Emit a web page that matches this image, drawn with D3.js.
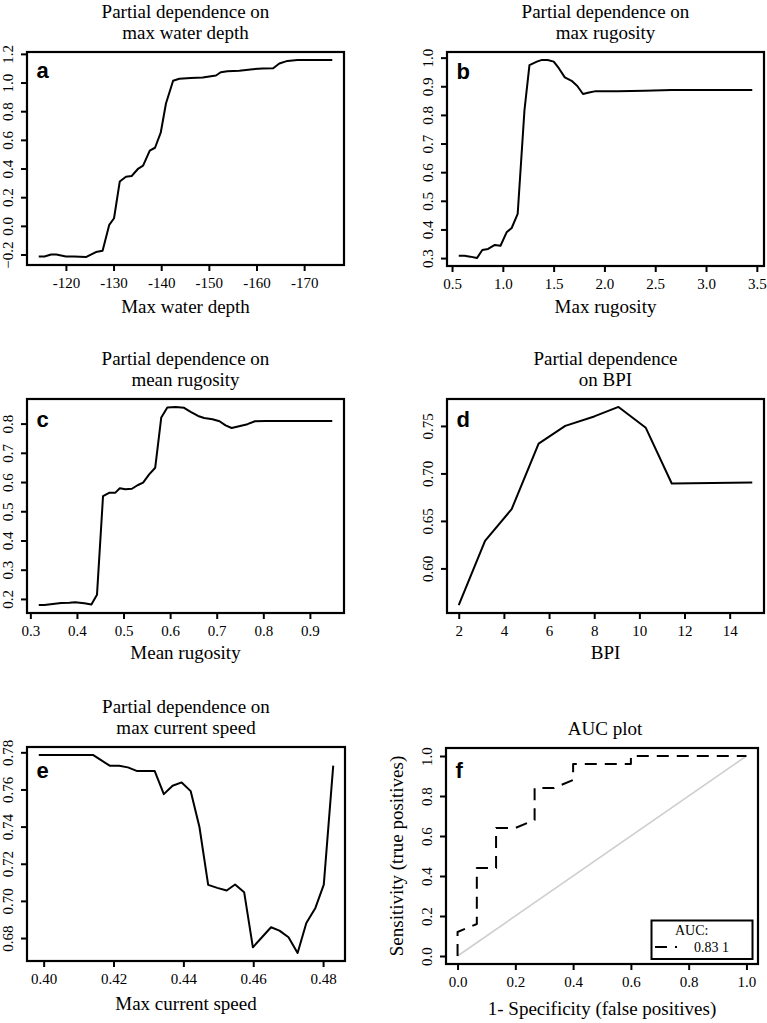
<!DOCTYPE html>
<html>
<head>
<meta charset="utf-8">
<script src="https://cdn.jsdelivr.net/npm/d3@7"></script>
<style>
  body { margin: 0; background: #fff; }
  svg { display: block; }
  svg text { font-family: "Liberation Serif", "Times New Roman", Times, serif; }
</style>
</head>
<body>
<script>
'use strict';

// panel a: max water depth
var depthX = [-114.3, -115.5, -116.9, -118.0, -120.0, -121.7, -124.2, -126.3, -127.7, -129.1, -130.1,
  -131.3, -132.6, -133.8, -135.2, -136.2, -137.6, -138.7, -139.9, -141.0, -142.5, -143.8, -146.2,
  -148.7, -150.1, -151.5, -152.5, -153.9, -156.4, -159.2, -161.3, -163.5, -164.8, -166.5, -168.6, -175.9];
var depthY = [-0.214, -0.214, -0.200, -0.200, -0.214, -0.214, -0.218, -0.183, -0.174, 0.007, 0.053,
  0.309, 0.343, 0.348, 0.400, 0.420, 0.525, 0.545, 0.650, 0.854, 1.012, 1.026, 1.031,
  1.035, 1.042, 1.049, 1.072, 1.079, 1.082, 1.093, 1.098, 1.100, 1.133, 1.151, 1.158, 1.158];
var depthXTicks = [-120, -130, -140, -150, -160, -170];
var depthYTicks = [-0.2, 0, 0.2, 0.4, 0.6, 0.8, 1.0, 1.2];

// panel b: max rugosity
var maxRugX = [0.566, 0.623, 0.679, 0.745, 0.798, 0.855, 0.921, 0.977, 1.037, 1.087, 1.146, 1.213,
  1.262, 1.335, 1.385, 1.441, 1.501, 1.551, 1.610, 1.677, 1.733, 1.789, 1.849, 1.915, 2.131, 2.396, 2.661, 3.455];
var maxRugY = [0.308, 0.308, 0.305, 0.300, 0.328, 0.332, 0.346, 0.343, 0.390, 0.405, 0.454, 0.817,
  0.974, 0.986, 0.992, 0.992, 0.986, 0.963, 0.931, 0.919, 0.901, 0.873, 0.878, 0.883, 0.883, 0.884, 0.887, 0.887];
var maxRugXTicks = [0.5, 1.0, 1.5, 2.0, 2.5, 3.0, 3.5];
var maxRugYTicks = [0.3, 0.4, 0.5, 0.6, 0.7, 0.8, 0.9, 1.0];

// panel c: mean rugosity
var meanRugX = [0.318, 0.330, 0.348, 0.366, 0.384, 0.396, 0.416, 0.431, 0.443, 0.456, 0.469, 0.482,
  0.492, 0.504, 0.518, 0.530, 0.542, 0.555, 0.568, 0.581, 0.594, 0.612, 0.630, 0.644, 0.660, 0.673,
  0.691, 0.706, 0.719, 0.732, 0.748, 0.766, 0.782, 0.805, 0.841, 0.948];
var meanRugY = [0.179, 0.179, 0.183, 0.186, 0.187, 0.189, 0.185, 0.181, 0.214, 0.552, 0.563, 0.563,
  0.579, 0.575, 0.577, 0.589, 0.598, 0.626, 0.649, 0.821, 0.855, 0.857, 0.854, 0.840, 0.826, 0.819,
  0.815, 0.808, 0.794, 0.785, 0.791, 0.798, 0.808, 0.809, 0.809, 0.809];
var meanRugXTicks = [0.3, 0.4, 0.5, 0.6, 0.7, 0.8, 0.9];
var meanRugYTicks = [0.2, 0.3, 0.4, 0.5, 0.6, 0.7, 0.8];

// panel d: BPI
var bpiX = [2.0, 3.165, 4.344, 5.538, 6.718, 8.0, 9.076, 10.285, 11.435, 15.0];
var bpiY = [0.5614, 0.629, 0.6624, 0.7314, 0.750, 0.760, 0.770, 0.748, 0.6894, 0.6904];
var bpiXTicks = [2, 4, 6, 8, 10, 12, 14];
var bpiYTicks = [0.60, 0.65, 0.70, 0.75];

// panel e: max current speed
var speedX = [0.3986, 0.4141, 0.4189, 0.4216, 0.4241, 0.4268, 0.4318, 0.4344, 0.4369, 0.4395, 0.4421,
  0.4446, 0.4471, 0.4497, 0.4524, 0.4548, 0.4574, 0.4599, 0.4625, 0.4651, 0.4675, 0.4701, 0.4727,
  0.4752, 0.4778, 0.4802, 0.4829];
var speedY = [0.7786, 0.7786, 0.7728, 0.7728, 0.7719, 0.7699, 0.7699, 0.7575, 0.7620, 0.7638, 0.7591,
  0.7398, 0.7086, 0.7070, 0.7056, 0.7088, 0.7047, 0.6750, 0.6804, 0.6858, 0.6840, 0.6804, 0.6719,
  0.6881, 0.6962, 0.7088, 0.7728];
var speedXTicks = [0.40, 0.42, 0.44, 0.46, 0.48];
var speedYTicks = [0.68, 0.70, 0.72, 0.74, 0.76, 0.78];

// panel f: ROC curve
var rocFpr = [0, 0, 0.0667, 0.0667, 0.1333, 0.1333, 0.2, 0.2667, 0.2667, 0.3333, 0.4, 0.4, 0.6, 0.6, 1.0];
var rocTpr = [0, 0.12, 0.16, 0.44, 0.44, 0.64, 0.64, 0.68, 0.84, 0.84, 0.88, 0.96, 0.96, 1.0, 1.0];
var rocTicks = [0, 0.2, 0.4, 0.6, 0.8, 1.0];
var aucLegend = ['AUC:', '0.83 1'];

var SERIF = '"Liberation Serif", "Times New Roman", Times, serif';
var SANS = '"Liberation Sans", Arial, Helvetica, sans-serif';

var svg = d3.select('body').append('svg').attr('width', 767).attr('height', 1023);

// R style: data range plus 4% on each side
var padded = function(vals, reverse) {
  var ext = d3.extent(vals);
  var pad = (ext[1] - ext[0]) * 0.04;
  return reverse ? [ext[1] + pad, ext[0] - pad] : [ext[0] - pad, ext[1] + pad];
};

// x labels use a plain hyphen, y labels keep the minus sign
var fmt = function(digits) {
  return function(d) { return d3.format('.' + digits + 'f')(d).replace('−', '-'); };
};
var minusFmt = function(digits) {
  return function(d) { return d3.format('.' + digits + 'f')(d); };
};

var styleAxis = function(ax) {
  ax.select('.domain').remove();
  ax.attr('font-family', null).attr('font-size', null);
  ax.selectAll('line').attr('stroke-width', 2);
  ax.selectAll('text')
    .style('font-family', SERIF)
    .style('font-size', '15px')
    .attr('fill', '#000');
};

var drawPanel = function(p) {
  var g = svg.append('g');
  var x = d3.scaleLinear().domain(p.xDomain || padded(p.xs, p.reverse)).range([p.box[0], p.box[1]]);
  var y = d3.scaleLinear().domain(p.yDomain || padded(p.ys)).range([p.box[3], p.box[2]]);

  var xAxis = g.append('g')
    .attr('transform', 'translate(0,' + p.box[3] + ')')
    .call(d3.axisBottom(x).tickValues(p.xTicks).tickFormat(p.xFmt).tickSize(6).tickPadding(6.3));
  styleAxis(xAxis);

  var yAxis = g.append('g')
    .attr('transform', 'translate(' + p.box[0] + ',0)')
    .call(d3.axisLeft(y).tickValues(p.yTicks).tickFormat(p.yFmt).tickSize(6));
  styleAxis(yAxis);
  yAxis.selectAll('text')
    .attr('transform', 'rotate(-90)')
    .attr('x', 0).attr('y', -14).attr('dy', 0)
    .attr('text-anchor', 'middle');

  if (p.extra) p.extra(g, x, y);

  g.append('path')
    .datum(d3.zip(p.xs, p.ys))
    .attr('fill', 'none')
    .attr('stroke', '#000')
    .attr('stroke-width', 2)
    .attr('stroke-linejoin', 'round')
    .attr('stroke-dasharray', p.dash || null)
    .attr('d', d3.line().x(function(d) { return x(d[0]); }).y(function(d) { return y(d[1]); }));

  g.append('rect')
    .attr('x', p.box[0]).attr('y', p.box[2])
    .attr('width', p.box[1] - p.box[0]).attr('height', p.box[3] - p.box[2])
    .attr('fill', 'none').attr('stroke', '#000').attr('stroke-width', 2.2);

  var cx = (p.box[0] + p.box[1]) / 2 + (p.titleShift || 0);
  p.title.forEach(function(t, i) {
    g.append('text')
      .attr('x', cx)
      .attr('y', p.box[2] - (p.title.length - i - 1) * 21.5 - 13)
      .attr('text-anchor', 'middle')
      .style('font-size', '19px')
      .text(t);
  });

  g.append('text')
    .attr('x', (p.box[0] + p.box[1]) / 2)
    .attr('y', p.box[3] + p.xlabOff)
    .attr('text-anchor', 'middle')
    .style('font-size', '19px')
    .text(p.xlab);

  if (p.ylab) {
    g.append('text')
      .attr('transform', 'translate(' + (p.box[0] - 43) + ',' + (p.box[2] + p.box[3]) / 2 + ') rotate(-90)')
      .attr('text-anchor', 'middle')
      .style('font-size', '19px')
      .text(p.ylab);
  }

  g.append('text')
    .attr('x', p.box[0] + 9.5)
    .attr('y', p.letterY)
    .style('font-family', SANS).style('font-weight', 'bold').style('font-size', '22px')
    .text(p.letter);
};

drawPanel({
  box: [27, 344, 52, 265], xs: depthX, ys: depthY, reverse: true,
  xTicks: depthXTicks, yTicks: depthYTicks, xFmt: fmt(0), yFmt: minusFmt(1),
  title: ['Partial dependence on', 'max water depth'], xlab: 'Max water depth', xlabOff: 47.5,
  letter: 'a', letterY: 78
});

drawPanel({
  box: [447, 764, 52, 266], xs: maxRugX, ys: maxRugY,
  xTicks: maxRugXTicks, yTicks: maxRugYTicks, xFmt: fmt(1), yFmt: fmt(1),
  title: ['Partial dependence on', 'max rugosity'], xlab: 'Max rugosity', xlabOff: 47,
  letter: 'b', letterY: 79
});

drawPanel({
  box: [27, 344, 399, 613], xs: meanRugX, ys: meanRugY,
  xTicks: meanRugXTicks, yTicks: meanRugYTicks, xFmt: fmt(1), yFmt: fmt(1),
  title: ['Partial dependence on', 'mean rugosity'], xlab: 'Mean rugosity', xlabOff: 46,
  letter: 'c', letterY: 427
});

drawPanel({
  box: [447, 764, 399, 613], xs: bpiX, ys: bpiY,
  xTicks: bpiXTicks, yTicks: bpiYTicks, xFmt: fmt(0), yFmt: fmt(2),
  title: ['Partial dependence', 'on BPI'], xlab: 'BPI', xlabOff: 46,
  letter: 'd', letterY: 427
});

drawPanel({
  box: [27, 345, 747, 961], xs: speedX, ys: speedY,
  xTicks: speedXTicks, yTicks: speedYTicks, xFmt: fmt(2), yFmt: fmt(2),
  title: ['Partial dependence on', 'max current speed'], xlab: 'Max current speed', xlabOff: 49,
  letter: 'e', letterY: 778
});

drawPanel({
  box: [446, 758, 748, 964], xs: rocFpr, ys: rocTpr,
  xDomain: [-0.04, 1.04], yDomain: [-0.04, 1.04], dash: '12,8',
  xTicks: rocTicks, yTicks: rocTicks, xFmt: fmt(1), yFmt: fmt(1),
  title: ['AUC plot'], titleShift: 3, xlab: '1- Specificity (false positives)', xlabOff: 51,
  ylab: 'Sensitivity (true positives)',
  letter: 'f', letterY: 778,
  extra: function(g, x, y) {
    // reference diagonal
    g.append('line')
      .attr('x1', x(0)).attr('y1', y(0)).attr('x2', x(1)).attr('y2', y(1))
      .attr('stroke', '#cfcfcf').attr('stroke-width', 1.6);
    // legend
    var lg = g.append('g');
    lg.append('rect')
      .attr('x', 651.5).attr('y', 920.5).attr('width', 101).attr('height', 38.5)
      .attr('fill', '#fff').attr('stroke', '#000').attr('stroke-width', 2);
    lg.append('line')
      .attr('x1', 655).attr('x2', 677).attr('y1', 947).attr('y2', 947)
      .attr('stroke', '#000').attr('stroke-width', 2).attr('stroke-dasharray', '12,8');
    lg.append('text')
      .attr('x', 675).attr('y', 934.5)
      .style('font-size', '14px')
      .text(aucLegend[0]);
    lg.append('text')
      .attr('x', 694).attr('y', 951.5)
      .style('font-size', '14px')
      .text(aucLegend[1]);
  }
});
</script>
</body>
</html>
